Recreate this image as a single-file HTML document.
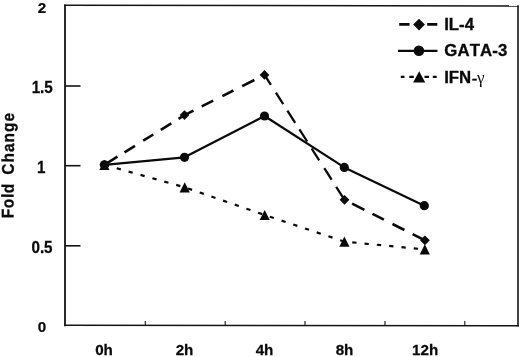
<!DOCTYPE html>
<html><head><meta charset="utf-8"><title>Fold Change</title>
<style>
html,body{margin:0;padding:0;background:#fff;}
svg{display:block;}
text{font-kerning:none;font-family:"Liberation Sans",Arial,sans-serif;font-weight:bold;fill:#0a0a0a;}
</style></head><body>
<svg width="520" height="357" viewBox="0 0 520 357">
<rect x="0" y="0" width="520" height="357" fill="#fff"/>
<!-- frame -->
<g stroke="#141414" fill="none">
<line x1="64.2" y1="5.2" x2="518.8" y2="5.9" stroke-width="1.5"/>
<line x1="518" y1="5.2" x2="518" y2="326.5" stroke-width="1.6"/>
<line x1="65" y1="4.4" x2="65" y2="326.3" stroke-width="1.8"/>
<line x1="64.2" y1="325.2" x2="518.8" y2="325.8" stroke-width="1.6"/>
<g stroke-width="1.6">
<line x1="65" y1="86" x2="80.5" y2="86"/>
<line x1="65" y1="165.7" x2="80.5" y2="165.7"/>
<line x1="65" y1="245.8" x2="80.5" y2="245.8"/>
</g>
<g stroke-width="1.1">
<line x1="145.3" y1="321" x2="145.3" y2="325.5"/>
<line x1="225.2" y1="321" x2="225.2" y2="325.5"/>
<line x1="305" y1="321" x2="305" y2="325.5"/>
<line x1="385" y1="321" x2="385" y2="325.5"/>
<line x1="464.8" y1="321" x2="464.8" y2="325.5"/>
</g>
</g>
<!-- axis labels -->
<g font-size="15.2" text-anchor="middle" stroke="#0a0a0a" stroke-width="0.25">
<text transform="translate(42,12.5) scale(1,0.99)">2</text>
<text transform="translate(42.2,93.0) scale(1,1.05)">1.5</text>
<text transform="translate(41.2,172.6) scale(1,1.05)">1</text>
<text transform="translate(42.0,252.8) scale(1,1.05)">0.5</text>
<text transform="translate(42,332.4) scale(1,0.99)">0</text>
<text transform="translate(104,355.2) scale(1,1.01)">0h</text>
<text transform="translate(184.5,355.2) scale(1,1.01)">2h</text>
<text transform="translate(264.5,355.2) scale(1,1.01)">4h</text>
<text transform="translate(344.5,355.2) scale(1,1.01)">8h</text>
<text transform="translate(425.2,355.2) scale(1,1.01)">12h</text>
</g>
<text font-size="15.4" letter-spacing="0.7" word-spacing="3.4" stroke="#0a0a0a" stroke-width="0.3" transform="translate(13.5,218.3) rotate(-89.65) scale(1,1.1)">Fold <tspan letter-spacing="1.05">Change</tspan></text>
<!-- series lines -->
<g fill="none" stroke="#0a0a0a" stroke-linejoin="round">
<polyline points="104.4,164.8 184.7,187.3 264.7,215.0 344.4,241.6 424.8,249.4" stroke-width="2.2" stroke-dasharray="4.3 8.06" stroke-dashoffset="-0.4"/>
<path d="M104.4,164.8 L117.4,156.7 M124.5,152.3 L135.0,145.8 M143.2,140.7 L153.3,134.5 M160.8,129.8 L171.3,123.3 M178.5,118.8 L184.5,115.1 M184.5,115.1 L193.5,110.6 M201.7,106.4 L213.2,100.7 M222.4,96.1 L233.4,90.5 M242.2,86.1 L254.4,80.0 M352.1,203.6 L364.4,209.8 M372.5,213.9 L383.9,219.6 M392.5,224.0 L404.4,230.0 M412.6,234.1 L424.9,240.3" stroke-width="2.6"/>
<path d="M264.5,74.9 L270.9,84.8 M275.9,92.7 L283.2,104.1 M287.4,110.7 L295.2,122.9 M299.4,129.4 L307.2,141.5 M311.6,148.5 L319.2,160.3 M324.3,168.2 L331.6,179.7 M336.2,186.9 L344.5,199.8" stroke-width="2.3"/>
<polyline points="104.4,164.8 184.5,157.3 264.5,116.0 344.3,167.4 424.3,205.7" stroke-width="2.2"/>
</g>
<!-- markers -->
<g fill="#0a0a0a" stroke="none">
<path d="M104.4,159.7 l5.1,10.2 h-10.2z"/>
<path d="M184.7,182.2 l5.1,10.2 h-10.2z"/>
<path d="M264.7,209.9 l5.1,10.2 h-10.2z"/>
<path d="M344.4,236.5 l5.1,10.2 h-10.2z"/>
<path d="M424.8,244.3 l5.1,10.2 h-10.2z"/>
<path d="M104.4,159.9 l4.9,4.9 -4.9,4.9 -4.9,-4.9z"/>
<path d="M184.5,110.2 l4.9,4.9 -4.9,4.9 -4.9,-4.9z"/>
<path d="M264.5,70.0 l4.9,4.9 -4.9,4.9 -4.9,-4.9z"/>
<path d="M344.5,194.9 l4.9,4.9 -4.9,4.9 -4.9,-4.9z"/>
<path d="M424.9,235.4 l4.9,4.9 -4.9,4.9 -4.9,-4.9z"/>
<circle cx="104.4" cy="164.8" r="4.6"/>
<circle cx="184.5" cy="157.3" r="4.6"/>
<circle cx="264.5" cy="116.0" r="4.6"/>
<circle cx="344.3" cy="167.4" r="4.6"/>
<circle cx="424.3" cy="205.7" r="4.6"/>
</g>
<!-- legend -->
<g stroke="#0a0a0a" fill="none">
<path d="M399.2,24.4 H409.5 M427.2,24.4 H437.3" stroke-width="2.6"/>
<line x1="398" y1="50.9" x2="437.5" y2="50.9" stroke-width="2.2"/>
<path d="M400.8,76.8 h3.7 M409.3,76.8 h4.5 M424.5,76.8 h4.5 M432.8,76.8 h3.9" stroke-width="2.2"/>
</g>
<g fill="#0a0a0a">
<path d="M419.05,18.7 l5.9,5.9 -5.9,5.9 -5.9,-5.9z"/>
<circle cx="418.9" cy="50.8" r="5.3"/>
<path d="M419.2,71.2 l6.05,11.4 h-12.1z"/>
</g>
<g font-size="16.8" stroke="#0a0a0a" stroke-width="0.3">
<text x="444.2" y="30.3">IL-4</text>
<text x="444.2" y="56" letter-spacing="0.15">GATA-3</text>
<text x="444.2" y="82.5">IFN<tspan dx="0.4" dy="1.5" font-weight="normal" stroke-width="0.45">-</tspan><tspan dx="-0.3" dy="-1.1" stroke="none" font-weight="normal" font-family="'Liberation Serif','DejaVu Serif',serif" font-size="17">γ</tspan></text>
</g>
</svg>
</body></html>
